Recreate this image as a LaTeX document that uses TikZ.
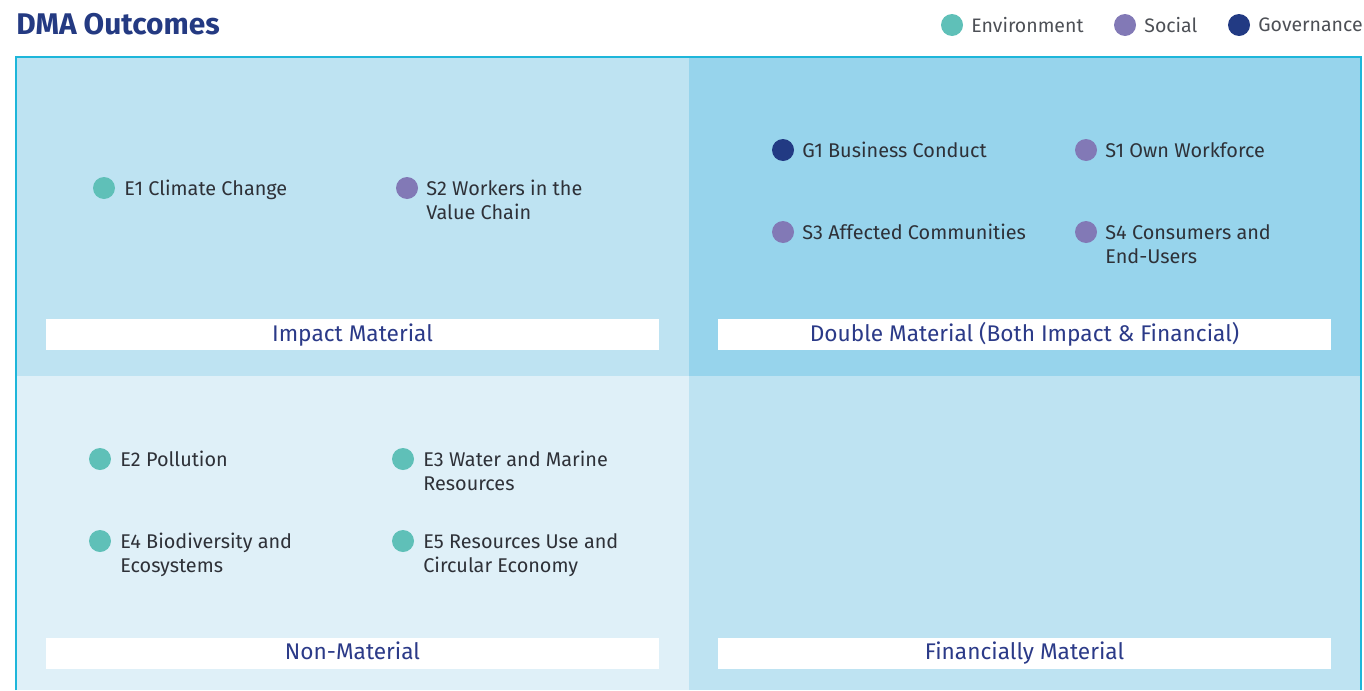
\documentclass[tikz,border=0pt]{standalone}
\usepackage{fontspec}
\setmainfont{Fira Sans}
\usepackage{tikz}
\usetikzlibrary{positioning}

\definecolor{envcol}{HTML}{5FC0B8}
\definecolor{soccol}{HTML}{8279B6}
\definecolor{govcol}{HTML}{223A83}
\definecolor{titlecol}{HTML}{243A82}
\definecolor{framecol}{HTML}{1EB6DA}
\definecolor{quadA}{HTML}{BEE3F2}
\definecolor{quadB}{HTML}{97D4EC}
\definecolor{quadC}{HTML}{DFF0F8}
\definecolor{itemcol}{HTML}{2E3138}
\definecolor{barcol}{HTML}{2B3A88}

\begin{document}
\begin{tikzpicture}[x=0.02cm,y=-0.02cm]
    \tikzset{DotStyle/.style = {shape = circle,minimum size = 0.44cm,inner sep=0},
             ItemStyle/.style = {anchor=base west,inner sep=0,align=left,text=itemcol,
                                 font=\fontsize{11.3}{13.6}\selectfont},
             BarStyle/.style = {fill=white,minimum width=12.26cm,minimum height=0.62cm,inner sep=0,
                                text height=0.98em,text depth=0.22em,
                                text=barcol,font=\fontsize{12.9}{14}\selectfont},
             LegendStyle/.style = {anchor=west,inner sep=0,text=itemcol!85,font=\fontsize{11.1}{12}\selectfont}}
    \useasboundingbox (0,0) rectangle (1364,690);

    % quadrants
    \fill[quadA] (16,57) rectangle (689,376);
    \fill[quadB] (689,57) rectangle (1361,376);
    \fill[quadC] (16,376) rectangle (689,690);
    \fill[quadA] (689,376) rectangle (1361,690);
    \draw[framecol,line width=0.7pt] (16,690) -- (16,57) -- (1361,57) -- (1361,690);

    % title and legend
    \node[anchor=west,inner sep=0,text=titlecol,font=\fontsize{17}{19}\selectfont\bfseries] (title) at (16,24) {DMA Outcomes};
    \node[DotStyle,fill=envcol] (envdot) at (952,25) {};
    \node[LegendStyle] (envtext) at (971,25) {Environment};
    \node[DotStyle,fill=soccol] (socdot) at (1125,25) {};
    \node[LegendStyle] (soctext) at (1144,25) {Social};
    \node[DotStyle,fill=govcol] (govdot) at (1239,25) {};
    \node[LegendStyle] (govtext) at (1258,25) {Governance};

    % impact material
    \node[DotStyle,fill=envcol] (e1dot) at (104,188) {};
    \node[ItemStyle] (e1) at (124,195) {E1 Climate Change};
    \node[DotStyle,fill=soccol] (s2dot) at (407,188) {};
    \node[ItemStyle] (s2) at (426,219) {S2 Workers in the\\Value Chain};
    \node[BarStyle] (impact) at (352.5,334.5) {Impact Material};

    % double material
    \node[DotStyle,fill=govcol] (g1dot) at (783,150) {};
    \node[ItemStyle] (g1) at (802,157) {G1 Business Conduct};
    \node[DotStyle,fill=soccol] (s1dot) at (1086,150) {};
    \node[ItemStyle] (s1) at (1105,157) {S1 Own Workforce};
    \node[DotStyle,fill=soccol] (s3dot) at (783,232) {};
    \node[ItemStyle] (s3) at (802,239) {S3 Affected Communities};
    \node[DotStyle,fill=soccol] (s4dot) at (1086,232) {};
    \node[ItemStyle] (s4) at (1105,263) {S4 Consumers and\\End-Users};
    \node[BarStyle] (double) at (1024.5,334.5) {Double Material (Both Impact \& Financial)};

    % non-material
    \node[DotStyle,fill=envcol] (e2dot) at (100,459) {};
    \node[ItemStyle] (e2) at (120,466) {E2 Pollution};
    \node[DotStyle,fill=envcol] (e3dot) at (403,459) {};
    \node[ItemStyle] (e3) at (423,490) {E3 Water and Marine\\Resources};
    \node[DotStyle,fill=envcol] (e4dot) at (100,541) {};
    \node[ItemStyle] (e4) at (120,572) {E4 Biodiversity and\\Ecosystems};
    \node[DotStyle,fill=envcol] (e5dot) at (403,541) {};
    \node[ItemStyle] (e5) at (423,572) {E5 Resources Use and\\Circular Economy};
    \node[BarStyle] (nonmat) at (352.5,653) {Non-Material};

    % financially material
    \node[BarStyle] (finmat) at (1024.5,653) {Financially Material};
\end{tikzpicture}
\end{document}
